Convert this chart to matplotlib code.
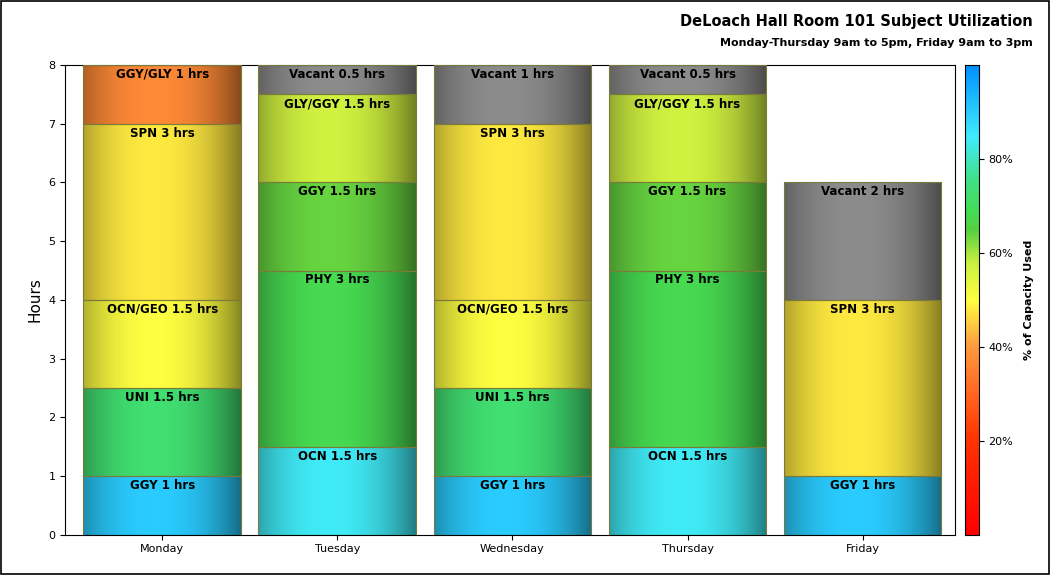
import matplotlib.pyplot as plt
import numpy as np
from matplotlib.colors import LinearSegmentedColormap, to_rgb
from matplotlib.patches import Rectangle

days = ["Monday", "Tuesday", "Wednesday", "Thursday", "Friday"]
subjects = [
    ["GGY", "UNI", "OCN/GEO", "SPN", "GGY/GLY"],
    ["OCN", "PHY", "GGY", "GLY/GGY", "Vacant"],
    ["GGY", "UNI", "OCN/GEO", "SPN", "Vacant"],
    ["OCN", "PHY", "GGY", "GLY/GGY", "Vacant"],
    ["GGY", "SPN", "Vacant"],
]
hours = [
    [1, 1.5, 1.5, 3, 1],
    [1.5, 3, 1.5, 1.5, 0.5],
    [1, 1.5, 1.5, 3, 1],
    [1.5, 3, 1.5, 1.5, 0.5],
    [1, 3, 2],
]
# % of capacity used (None = vacant), estimated from colours
capacity = [
    [90, 73, 50, 48, 37],
    [84, 68, 64, 57, None],
    [90, 73, 50, 48, None],
    [84, 68, 64, 57, None],
    [90, 48, None],
]

cmap = LinearSegmentedColormap.from_list("cap", [
    (0.0, "#ff0000"), (0.2, "#ff3300"), (0.4, "#ff9a40"), (0.5, "#ffff40"),
    (0.58, "#c8f040"), (0.65, "#55d040"), (0.69, "#44dd55"), (0.75, "#40e080"),
    (0.85, "#40ecff"), (1.0, "#0090ff")])

fig = plt.figure(figsize=(10.5, 5.75), dpi=100)
ax = fig.add_axes([0.062, 0.07, 0.848, 0.817])
cax = fig.add_axes([0.919, 0.07, 0.013, 0.817])

width = 0.9
xs = np.linspace(-1, 1, 200)
shade = 0.62 + 0.38 * (1 - np.abs(xs + 0.1) ** 2.2)
shade = np.clip(shade, 0, 1)

for i, day in enumerate(days):
    bottom = 0
    for name, h, cap in zip(subjects[i], hours[i], capacity[i]):
        base = np.array(to_rgb("#8c8c8c")) if cap is None else np.array(cmap(cap / 100)[:3])
        img = (base[None, None, :] * shade[None, :, None])
        x0, x1 = i - width / 2, i + width / 2
        ax.imshow(img, extent=[x0, x1, bottom, bottom + h], aspect="auto",
                  interpolation="bilinear", zorder=2)
        ax.add_patch(Rectangle((x0, bottom), width, h, fill=False,
                               edgecolor="#7a7a3a", lw=0.8, zorder=3))
        label = f"{name} {h:g} hrs"
        ax.text(i, bottom + h - 0.05, label, ha="center", va="top",
                fontsize=8.5, fontweight="bold", zorder=4)
        bottom += h

ax.set_xlim(-0.554, 4.53)
ax.set_ylim(0, 8)
ax.set_xticks(range(len(days)))
ax.set_xticklabels(days, fontsize=8.5)
ax.set_yticks(range(9))
ax.tick_params(labelsize=8)
ax.set_ylabel("Hours", fontsize=11)

grad = np.linspace(0, 100, 256)[:, None]
cax.imshow(grad, cmap=cmap, aspect="auto", origin="lower", extent=[0, 1, 0, 100])
cax.set_xticks([])
cax.yaxis.tick_right()
cax.set_yticks([20, 40, 60, 80])
cax.set_yticklabels(["20%", "40%", "60%", "80%"], fontsize=8)
cax.yaxis.set_label_position("right")
cax.set_ylabel("% of Capacity Used", fontsize=8, fontweight="bold", labelpad=8)

fig.text(0.984, 0.962, "DeLoach Hall Room 101 Subject Utilization", ha="right",
         va="center", fontsize=10.5, fontweight="bold")
fig.text(0.984, 0.925, "Monday-Thursday 9am to 5pm, Friday 9am to 3pm", ha="right",
         va="center", fontsize=8, fontweight="bold")
fig.patches.append(Rectangle((0.001, 0.001), 0.998, 0.998, transform=fig.transFigure,
                             fill=False, edgecolor="black", lw=1.2))

fig.savefig("out.png", dpi=100)
